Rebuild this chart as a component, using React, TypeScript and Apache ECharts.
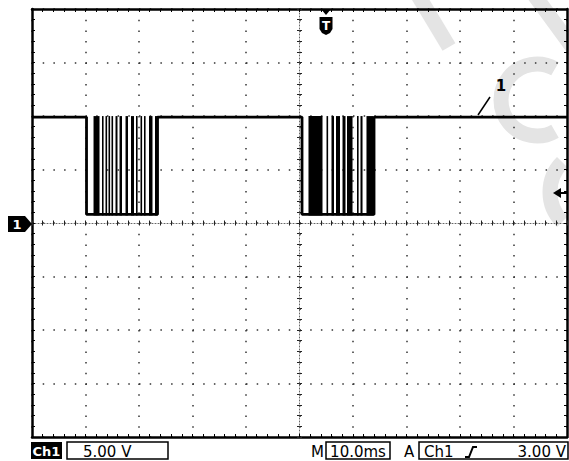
import React, { useEffect, useRef } from "react";
import * as echarts from "echarts";

// ---- data (time in ms, level in V) ----
const traceTime = [0, 10.19, 10.19, 23.46, 23.46, 50.47, 50.47, 63.93, 63.93, 100];
const traceVolts = [9.9, 9.9, 0.8, 0.8, 9.9, 9.9, 0.8, 0.8, 9.9, 9.9];
const highLevel = 9.9;
const lowLevel = 0.8;
const pulseStart = [
  11.5, 13.08, 13.74, 14.3, 14.86, 15.61, 16.36, 17.48, 18.5, 19.44, 20.28, 20.93, 21.87, 22.99,
  51.68, 55.05, 55.98, 56.82, 58.04, 58.88, 60.75, 61.4, 62.52,
];
const pulseEnd = [
  12.62, 13.18, 13.93, 14.39, 15.05, 15.98, 16.82, 17.94, 19.07, 19.63, 20.47, 21.21, 22.52, 23.46,
  54.3, 55.23, 56.45, 57.57, 58.6, 59.91, 60.9, 61.78, 63.83,
];
const timeRange = [0, 100];
const timeStep = 10;
const voltRange = [-20, 20];
const voltStep = 5;
const channelLabel = "Ch1";
const voltsPerDiv = "5.00 V";
const timebaseLabel = "M";
const timePerDiv = "10.0ms";
const acqLabel = "A";
const trigSource = "Ch1";
const trigLevel = "3.00 V";
const traceTag = "1";
const triggerTag = "T";

const FONT = '"DejaVu Sans", sans-serif';

export default function App() {
  const ref = useRef<HTMLDivElement>(null);
  useEffect(() => {
    if (!ref.current) return;
    const chart = echarts.init(ref.current, undefined, { renderer: "svg" });
    const dotted = [1.5, 9.2];
    const borderAxis = (position: string, withSplit: boolean, isX: boolean) => ({
      type: "value",
      position,
      min: isX ? timeRange[0] : voltRange[0],
      max: isX ? timeRange[1] : voltRange[1],
      interval: isX ? timeStep : voltStep,
      axisLine: { show: true, onZero: false, lineStyle: { color: "#000", width: 2.5 } },
      axisTick: { show: true, inside: true, length: 3, lineStyle: { color: "#000", width: 1 } },
      minorTick: { show: true, splitNumber: 5, length: 3, lineStyle: { color: "#000", width: 1 } },
      axisLabel: { show: false },
      splitLine: { show: withSplit, lineStyle: { color: "#333", width: 1.5, type: dotted } },
      minorSplitLine: { show: false },
    });
    const centerAxis = (position: string, offset: number, inside: boolean, showLine: boolean, isX: boolean) => ({
      type: "value",
      position,
      offset,
      min: isX ? timeRange[0] : voltRange[0],
      max: isX ? timeRange[1] : voltRange[1],
      interval: isX ? timeStep : voltStep,
      axisLine: { show: showLine, onZero: false, lineStyle: { color: "#666", width: 1, type: [1, 2] } },
      axisTick: { show: true, inside, length: 2.5, lineStyle: { color: "#222", width: 1 } },
      minorTick: { show: true, splitNumber: 5, length: 2.5, lineStyle: { color: "#222", width: 1 } },
      axisLabel: { show: false },
      splitLine: { show: false },
    });

    const wm = "#e4e4e4";
    const option: any = {
      animation: false,
      backgroundColor: "#fff",
      grid: { left: 32, top: 9, width: 535, height: 428, containLabel: false, outerBoundsMode: "none" },
      xAxis: [
        borderAxis("bottom", true, true),
        borderAxis("top", false, true),
        centerAxis("bottom", -214, true, true, true),
        centerAxis("bottom", -214, false, false, true),
      ],
      yAxis: [
        borderAxis("left", true, false),
        borderAxis("right", false, false),
        centerAxis("left", -267.5, true, true, false),
        centerAxis("left", -267.5, false, false, false),
      ],
      series: [
        {
          type: "line",
          xAxisIndex: 0,
          yAxisIndex: 0,
          showSymbol: false,
          symbol: "none",
          lineStyle: { color: "#000", width: 2.8 },
          data: traceTime.map((t, i) => [t, traceVolts[i]]),
          z: 5,
        },
        {
          type: "custom",
          xAxisIndex: 0,
          yAxisIndex: 0,
          encode: { x: [0, 1], y: [2, 3] },
          data: pulseStart.map((s, i) => [s, pulseEnd[i], highLevel, lowLevel]),
          renderItem: (params: any, api: any) => {
            const p0 = api.coord([api.value(0), api.value(2)]);
            const p1 = api.coord([api.value(1), api.value(3)]);
            const w = Math.max(p1[0] - p0[0], 1.6);
            return {
              type: "rect",
              shape: { x: p0[0], y: p0[1] - 1, width: w, height: p1[1] - p0[1] + 2 },
              style: { fill: "#000" },
            };
          },
          z: 6,
        },
      ],
      graphic: [
        // watermark
        { type: "line", z: -1, shape: { x1: 416, y1: -8, x2: 449, y2: 47 }, style: { stroke: wm, lineWidth: 15 } },
        { type: "line", z: -1, shape: { x1: 532, y1: -8, x2: 576, y2: 52 }, style: { stroke: wm, lineWidth: 15 } },
        {
          type: "arc", z: -1,
          shape: { cx: 537, cy: 100, r: 36, startAngle: Math.PI / 3, endAngle: (5 * Math.PI) / 3, clockwise: true },
          style: { stroke: wm, lineWidth: 15, fill: "none" },
        },
        {
          type: "arc", z: -1,
          shape: { cx: 592, cy: 192, r: 42, startAngle: (3 * Math.PI) / 4, endAngle: (5 * Math.PI) / 4, clockwise: true },
          style: { stroke: wm, lineWidth: 15, fill: "none" },
        },
        // channel marker on the left
        {
          type: "polygon", z: 20,
          shape: { points: [[8, 216], [25, 216], [32, 224], [25, 232], [8, 232]] },
          style: { fill: "#000" },
        },
        { type: "text", z: 21, x: 17, y: 224, style: { text: traceTag, font: `bold 13px ${FONT}`, fill: "#fff", align: "center", verticalAlign: "middle" } },
        // trigger marker on the top
        { type: "polygon", z: 20, shape: { points: [[321, 9], [331, 9], [326, 15]] }, style: { fill: "#000" } },
        {
          type: "polygon", z: 20,
          shape: { points: [[319.5, 17], [332.5, 17], [332.5, 29], [330, 33], [326, 35], [322, 33], [319.5, 29]] },
          style: { fill: "#000" },
        },
        { type: "text", z: 21, x: 326, y: 25.5, style: { text: triggerTag, font: `bold 12px ${FONT}`, fill: "#fff", align: "center", verticalAlign: "middle" } },
        // trigger level arrow on the right
        { type: "polygon", z: 20, shape: { points: [[553, 193], [561, 188], [561, 198]] }, style: { fill: "#000" } },
        { type: "line", z: 20, shape: { x1: 559, y1: 193, x2: 567, y2: 193 }, style: { stroke: "#000", lineWidth: 2 } },
        // trace label
        { type: "text", z: 20, x: 501, y: 86, style: { text: traceTag, font: `bold 15px ${FONT}`, fill: "#000", align: "center", verticalAlign: "middle" } },
        { type: "line", z: 20, shape: { x1: 490, y1: 97, x2: 478, y2: 115 }, style: { stroke: "#000", lineWidth: 1.5 } },
        // status bar
        { type: "rect", z: 20, shape: { x: 31, y: 442, width: 31, height: 17 }, style: { fill: "#000" } },
        { type: "text", z: 21, x: 46.5, y: 451, style: { text: channelLabel, font: `bold 13px ${FONT}`, fill: "#fff", align: "center", verticalAlign: "middle" } },
        { type: "rect", z: 20, shape: { x: 67, y: 442, width: 101, height: 17 }, style: { fill: "none", stroke: "#000", lineWidth: 1.5 } },
        { type: "text", z: 21, x: 83, y: 451.5, style: { text: voltsPerDiv, font: `15px ${FONT}`, fill: "#000", align: "left", verticalAlign: "middle" } },
        { type: "text", z: 21, x: 311, y: 451.5, style: { text: timebaseLabel, font: `15px ${FONT}`, fill: "#000", align: "left", verticalAlign: "middle" } },
        { type: "rect", z: 20, shape: { x: 326, y: 442, width: 64, height: 17 }, style: { fill: "none", stroke: "#000", lineWidth: 1.5 } },
        { type: "text", z: 21, x: 358, y: 451.5, style: { text: timePerDiv, font: `15px ${FONT}`, fill: "#000", align: "center", verticalAlign: "middle" } },
        { type: "text", z: 21, x: 404, y: 451.5, style: { text: acqLabel, font: `15px ${FONT}`, fill: "#000", align: "left", verticalAlign: "middle" } },
        { type: "rect", z: 20, shape: { x: 419, y: 442, width: 149, height: 17 }, style: { fill: "none", stroke: "#000", lineWidth: 1.5 } },
        { type: "text", z: 21, x: 424, y: 451.5, style: { text: trigSource, font: `15px ${FONT}`, fill: "#000", align: "left", verticalAlign: "middle" } },
        {
          type: "polyline", z: 21,
          shape: { points: [[465, 457], [469, 457], [473, 447], [477, 447]] },
          style: { stroke: "#000", lineWidth: 2, fill: "none" },
        },
        { type: "text", z: 21, x: 566, y: 451.5, style: { text: trigLevel, font: `15px ${FONT}`, fill: "#000", align: "right", verticalAlign: "middle" } },
      ],
    };
    chart.setOption(option);
    return () => chart.dispose();
  }, []);
  return (
    <div
      ref={ref}
      style={{ position: "fixed", left: 0, top: 0, width: 569, height: 461, background: "#fff" }}
    />
  );
}
